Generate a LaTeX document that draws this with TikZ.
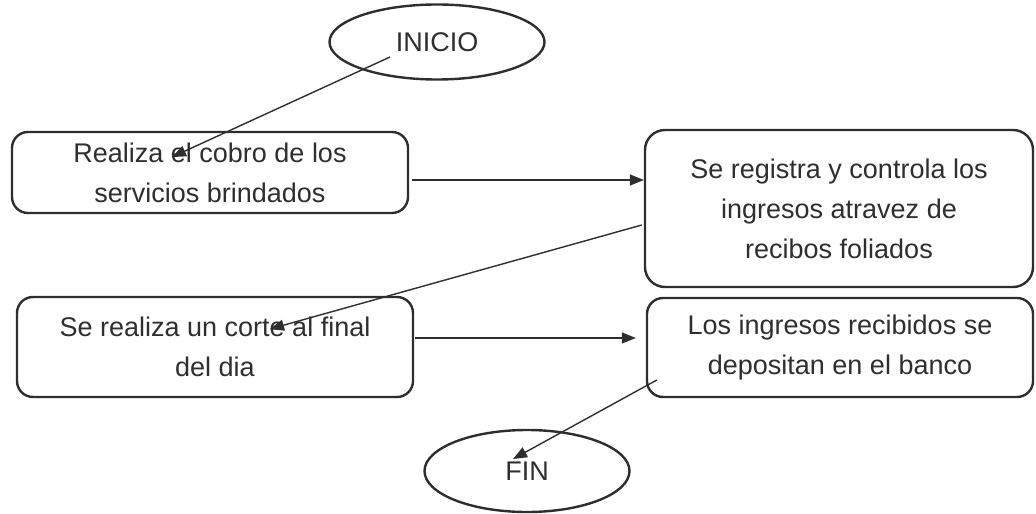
\documentclass[tikz,border=0pt]{standalone}
\usepackage{fontspec}
\setmainfont{Liberation Sans}
\usepackage{tikz}
\usetikzlibrary{shapes.geometric, arrows.meta, positioning}
\definecolor{ink}{HTML}{2E2E2E}
\tikzstyle{line} = [draw=ink, -{Triangle[length=7pt,width=5.5pt]}, line width=0.7pt]

\begin{document}
\begin{tikzpicture}[x=0.5pt, y=-0.5pt, box/.style={rectangle, draw=ink, line width=1.2pt, rounded corners=8pt, align=center, text=ink, font=\fontsize{13.5}{20}\selectfont, inner sep=0pt}, term/.style={ellipse, draw=ink, line width=1.2pt, text=ink, font=\fontsize{13.5}{20}\selectfont, inner sep=0pt}]

    \useasboundingbox (0,0) rectangle (1036,513);

    \node[term, minimum width=107.5pt, minimum height=37.5pt] (inicio) at (437,42) {INICIO};
    \node[box, minimum width=198pt, minimum height=40.5pt] (cobro) at (210,172.5) {Realiza el cobro de los\\servicios brindados};
    \node[box, minimum width=194pt, minimum height=78.5pt, rounded corners=10pt] (registro) at (839,208.5) {Se registra y controla los\\ingresos atravez de\\recibos foliados};
    \node[box, minimum width=198pt, minimum height=50pt] (corte) at (215,347) {Se realiza un corte al final\\del dia};
    \node[box, minimum width=193pt, minimum height=49.5pt] (deposito) at (840,347.5) {Los ingresos recibidos se\\depositan en el banco};
    \node[term, minimum width=102.5pt, minimum height=41pt] (fin) at (527,471) {FIN};

    \coordinate (c2) at ([xshift=1.5pt, yshift=-3.75pt]cobro.east);
    \coordinate (c4) at ([xshift=0.5pt, yshift=4.5pt]corte.east);

    \draw[line] ([xshift=-23.5pt, yshift=-7.5pt]inicio.center) -- ([xshift=-19pt, yshift=7.75pt]cobro.center);
    \draw[line] (c2) -- (c2 -| registro.west);
    \draw[line] ([xshift=-1pt, yshift=-8.25pt]registro.west) -- ([xshift=27.5pt, yshift=9pt]corte.center);
    \draw[line] (c4) -- ([xshift=-5pt]c4 -| deposito.west);
    \draw[line] ([xshift=5.5pt, yshift=-16.25pt]deposito.west) -- ([xshift=-7pt, yshift=6pt]fin.center);

\end{tikzpicture}
\end{document}
